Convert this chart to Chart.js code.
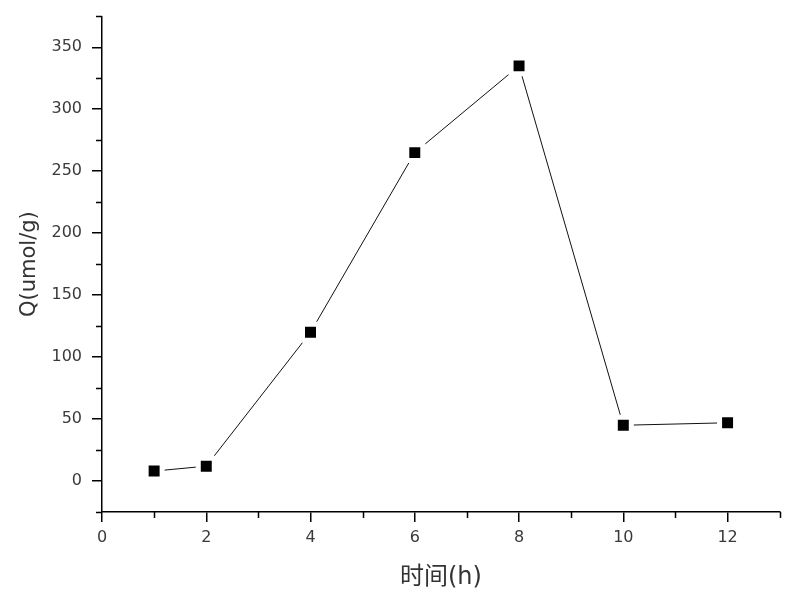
<!DOCTYPE html>
<html>
<head>
<meta charset="utf-8">
<script src="https://cdn.jsdelivr.net/npm/chart.js@4/dist/chart.umd.min.js"></script>
<style>
  html, body { margin: 0; padding: 0; background: #fff; }
  #wrap { width: 796px; height: 607px; position: relative; }
</style>
</head>
<body>
<div id="wrap"><canvas id="c" width="796" height="607"></canvas></div>
<script>
// Data
const hours = [1, 2, 4, 6, 8, 10, 12];
const qValues = [8, 12, 120, 265, 335, 45, 47];

// Axis ticks
const xMajorTicks = [0, 2, 4, 6, 8, 10, 12];
const xMinorTicks = [1, 3, 5, 7, 9, 11, 13];
const yMajorTicks = [0, 50, 100, 150, 200, 250, 300, 350];
const yMinorTicks = [-25, 25, 75, 125, 175, 225, 275, 325, 375];

const xTitle = '时间(h)';
const yTitle = 'Q(umol/g)';

const FONT = "'DejaVu Sans', 'Noto Sans CJK SC', sans-serif";

const minorTicks = {
  id: 'minorTicks',
  afterDraw(chart) {
    const ctx = chart.ctx;
    const xs = chart.scales.x, ys = chart.scales.y;
    ctx.save();
    ctx.strokeStyle = '#000';
    ctx.lineWidth = 1.5;
    ctx.beginPath();
    xMinorTicks.forEach(v => {
      const px = Math.round(xs.getPixelForValue(v)) + 0.5;
      ctx.moveTo(px, xs.top);
      ctx.lineTo(px, xs.top + 6);
    });
    yMinorTicks.forEach(v => {
      const py = Math.round(ys.getPixelForValue(v)) + 0.5;
      ctx.moveTo(ys.right - 6, py);
      ctx.lineTo(ys.right, py);
    });
    ctx.stroke();
    ctx.restore();
  }
};

new Chart(document.getElementById('c'), {
  type: 'scatter',
  data: {
    datasets: [{
      data: hours.map((h, i) => ({ x: h, y: qValues[i] })),
      showLine: true,
      borderColor: '#111',
      borderWidth: 1,
      pointStyle: 'rect',
      pointRadius: 11.3,
      pointHoverRadius: 11.3,
      pointBorderWidth: 5,
      pointBorderColor: '#fff',
      pointBackgroundColor: '#000'
    }]
  },
  options: {
    responsive: false,
    animation: false,
    events: [],
    layout: { padding: { left: 0, right: 16, top: 14, bottom: 0 } },
    plugins: { legend: { display: false }, tooltip: { enabled: false } },
    scales: {
      x: {
        type: 'linear',
        min: 0, max: 13,
        afterBuildTicks: axis => { axis.ticks = xMajorTicks.map(v => ({ value: v })); },
        afterFit: axis => { axis.height = 95; axis.paddingLeft = 0; axis.paddingRight = 0; },
        grid: { drawOnChartArea: false, drawTicks: true, tickLength: 10, color: '#000', lineWidth: 1.5 },
        border: { display: true, color: '#000', width: 1.5 },
        ticks: { color: '#3a3a3a', font: { family: FONT, size: 16 }, padding: 6, maxRotation: 0 },
        title: { display: true, text: xTitle, color: '#333', font: { family: FONT, size: 24 }, padding: { top: 0, bottom: 15 } }
      },
      y: {
        type: 'linear',
        min: -25, max: 375,
        afterBuildTicks: axis => { axis.ticks = yMajorTicks.map(v => ({ value: v })); },
        afterFit: axis => { axis.width = 102; axis.paddingTop = 0; axis.paddingBottom = 0; },
        grid: { drawOnChartArea: false, drawTicks: true, tickLength: 10, color: '#000', lineWidth: 1.5 },
        border: { display: true, color: '#000', width: 1.5 },
        ticks: { color: '#3a3a3a', font: { family: FONT, size: 16 }, padding: 10 },
        title: { display: true, text: yTitle, color: '#333', font: { family: FONT, size: 21 }, padding: { top: 17, bottom: 0 } }
      }
    }
  },
  plugins: [minorTicks]
});
</script>
</body>
</html>
